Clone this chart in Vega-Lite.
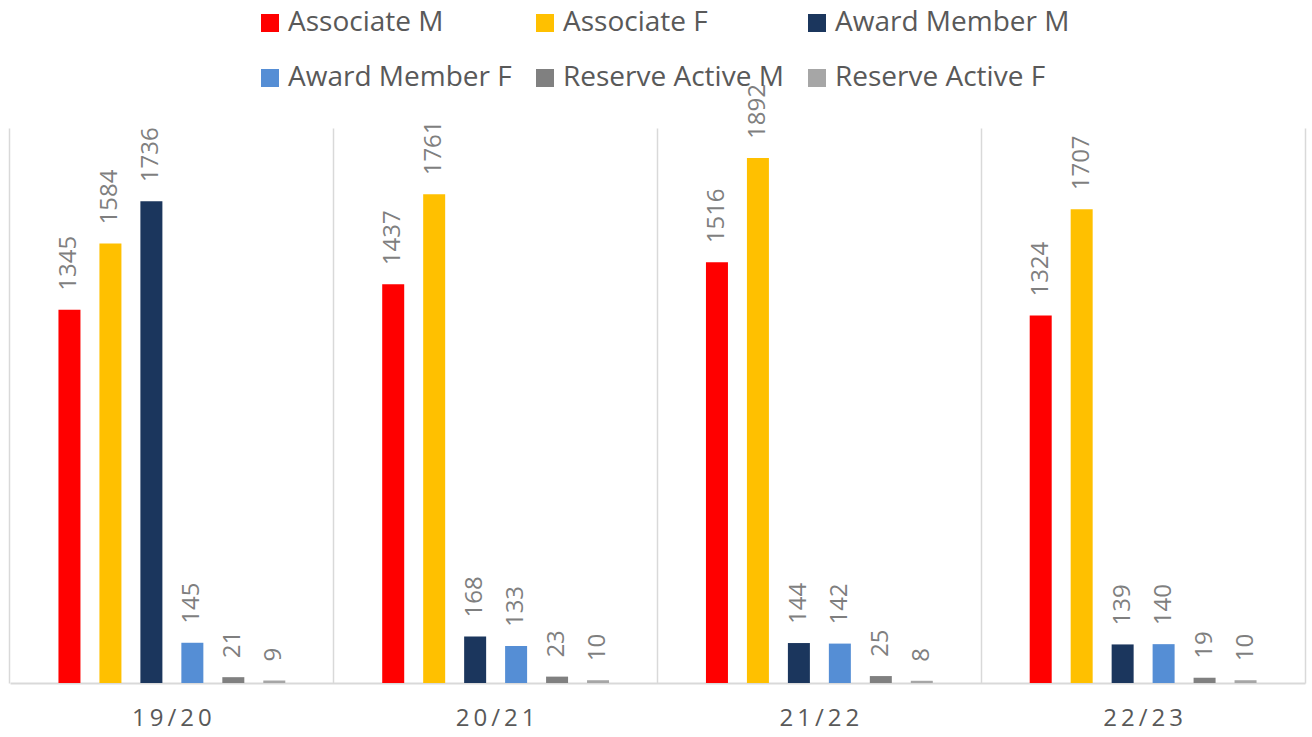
{
  "$schema": "https://vega.github.io/schema/vega-lite/v6.json",
  "width": 1295,
  "height": 555,
  "autosize": {"type": "none"},
  "padding": {"left": 10, "top": 128, "right": 7, "bottom": 54},
  "background": "white",
  "config": {
    "view": {"stroke": null},
    "font": "Open Sans"
  },
  "data": {
    "values": [
      {"year": "19/20", "series": "Associate M", "value": 1345},
      {"year": "19/20", "series": "Associate F", "value": 1584},
      {"year": "19/20", "series": "Award Member M", "value": 1736},
      {"year": "19/20", "series": "Award Member F", "value": 145},
      {"year": "19/20", "series": "Reserve Active M", "value": 21},
      {"year": "19/20", "series": "Reserve Active F", "value": 9},
      {"year": "20/21", "series": "Associate M", "value": 1437},
      {"year": "20/21", "series": "Associate F", "value": 1761},
      {"year": "20/21", "series": "Award Member M", "value": 168},
      {"year": "20/21", "series": "Award Member F", "value": 133},
      {"year": "20/21", "series": "Reserve Active M", "value": 23},
      {"year": "20/21", "series": "Reserve Active F", "value": 10},
      {"year": "21/22", "series": "Associate M", "value": 1516},
      {"year": "21/22", "series": "Associate F", "value": 1892},
      {"year": "21/22", "series": "Award Member M", "value": 144},
      {"year": "21/22", "series": "Award Member F", "value": 142},
      {"year": "21/22", "series": "Reserve Active M", "value": 25},
      {"year": "21/22", "series": "Reserve Active F", "value": 8},
      {"year": "22/23", "series": "Associate M", "value": 1324},
      {"year": "22/23", "series": "Associate F", "value": 1707},
      {"year": "22/23", "series": "Award Member M", "value": 139},
      {"year": "22/23", "series": "Award Member F", "value": 140},
      {"year": "22/23", "series": "Reserve Active M", "value": 19},
      {"year": "22/23", "series": "Reserve Active F", "value": 10}
    ]
  },
  "encoding": {
    "x": {
      "field": "year",
      "type": "nominal",
      "sort": ["19/20", "20/21", "21/22", "22/23"],
      "scale": {"paddingInner": 0.0463, "paddingOuter": 0.02315},
      "axis": {
        "title": null,
        "labelAngle": 0,
        "labelFontSize": 24,
        "labelColor": "#595959",
        "labelPadding": 23,
        "labelExpr": "join(split(datum.label, ''), '\u2009')",
        "ticks": false,
        "grid": true,
        "bandPosition": -0.0243,
        "gridColor": "#d9d9d9",
        "gridWidth": 1.5,
        "domainColor": "#d9d9d9",
        "domainWidth": 2
      }
    },
    "xOffset": {
      "field": "series",
      "type": "nominal",
      "sort": ["Associate M", "Associate F", "Award Member M", "Award Member F", "Reserve Active M", "Reserve Active F"],
      "scale": {"paddingInner": 0.463, "paddingOuter": 1}
    },
    "y": {
      "field": "value",
      "type": "quantitative",
      "scale": {"domain": [0, 2000], "nice": false},
      "axis": {
        "orient": "right",
        "title": null,
        "labels": false,
        "ticks": false,
        "grid": false,
        "domainColor": "#d9d9d9",
        "domainWidth": 1.5
      }
    }
  },
  "layer": [
    {
      "mark": {"type": "bar"},
      "encoding": {
        "color": {
          "field": "series",
          "type": "nominal",
          "sort": ["Associate M", "Associate F", "Award Member M", "Award Member F", "Reserve Active M", "Reserve Active F"],
          "scale": {
            "domain": ["Associate M", "Associate F", "Award Member M", "Award Member F", "Reserve Active M", "Reserve Active F"],
            "range": ["#FF0000", "#FFC000", "#1B365D", "#558ED5", "#808080", "#A6A6A6"]
          },
          "legend": {
            "title": null,
            "orient": "none",
            "legendX": 246,
            "legendY": -119,
            "direction": "horizontal",
            "columns": 3,
            "columnPadding": 19,
            "rowPadding": 27,
            "padding": 0,
            "symbolType": "square",
            "symbolSize": 324,
            "symbolStrokeWidth": 0,
            "symbolOpacity": 1,
            "labelFontSize": 28,
            "labelColor": "#595959",
            "labelOffset": 4,
            "labelLimit": 400
          }
        }
      }
    },
    {
      "mark": {
        "type": "text",
        "angle": 270,
        "align": "left",
        "baseline": "middle",
        "dx": 19,
        "fontSize": 24,
        "color": "#7f7f7f"
      },
      "encoding": {
        "text": {"field": "value", "type": "quantitative"}
      }
    }
  ]
}
